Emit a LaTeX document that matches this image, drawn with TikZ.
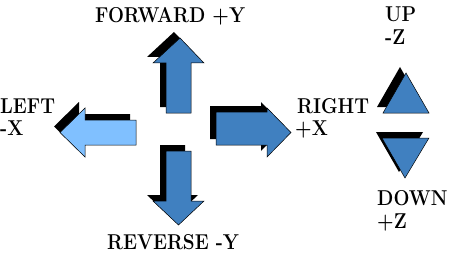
\documentclass[tikz,border=0pt]{standalone}
\usetikzlibrary{positioning}
\definecolor{arrowblue}{RGB}{64,128,192}
\definecolor{arrowlight}{RGB}{128,192,255}
\newcommand{\axislbl}[1]{\scalebox{0.88}[1]{#1}}

\begin{document}
\begin{tikzpicture}[x=1pt, y=-1pt,
    lbltext/.style={inner sep=0pt, anchor=base west, font=\fontsize{21.5}{21.5}\selectfont\bfseries},
    shadow/.style={fill=black, shift={(-6,-6)}},
    arrowbody/.style={fill=arrowblue, draw=black, line width=0.5pt, line join=miter}]
    \useasboundingbox (0,0) rectangle (471,254);

    % forward arrow
    \fill[shadow] (180,38) -- (153,63) -- (166,63) -- (166,113) -- (191,113) -- (191,63) -- (204,63) -- cycle;
    \draw[arrowbody] (180,38) -- (153,63) -- (166,63) -- (166,113) -- (191,113) -- (191,63) -- (204,63) -- cycle;
    % reverse arrow
    \fill[shadow] (178.5,225) -- (153,201) -- (166,201) -- (166,151) -- (191,151) -- (191,201) -- (204,201) -- cycle;
    \draw[arrowbody] (178.5,225) -- (153,201) -- (166,201) -- (166,151) -- (191,151) -- (191,201) -- (204,201) -- cycle;
    % left arrow
    \fill[shadow] (60,132.5) -- (85,108) -- (85,120) -- (136,120) -- (136,145) -- (85,145) -- (85,157) -- cycle;
    \draw[arrowbody, fill=arrowlight] (60,132.5) -- (85,108) -- (85,120) -- (136,120) -- (136,145) -- (85,145) -- (85,157) -- cycle;
    % right arrow
    \fill[shadow] (291,132.5) -- (267,108) -- (267,112) -- (216,112) -- (216,145) -- (267,145) -- (267,157) -- cycle;
    \draw[arrowbody] (291,132.5) -- (267,108) -- (267,112) -- (216,112) -- (216,145) -- (267,145) -- (267,157) -- cycle;
    % up and down triangles
    \fill[shadow] (406,73) -- (383,113) -- (429,113) -- cycle;
    \draw[arrowbody] (406,73) -- (383,113) -- (429,113) -- cycle;
    \fill[shadow] (405,178) -- (382,138) -- (429,138) -- cycle;
    \draw[arrowbody] (405,178) -- (382,138) -- (429,138) -- cycle;

    % labels
    \node[lbltext] (lblfwd) at (95,23) {\axislbl{FORWARD +Y}};
    \node[lbltext] (lblrev) at (107,249) {\axislbl{REVERSE -Y}};
    \node[lbltext] (lblleft) at (0,113) {\axislbl{LEFT}};
    \node[lbltext] (lblleftx) at (0,135) {\axislbl{-X}};
    \node[lbltext] (lblright) at (297,113) {\axislbl{RIGHT}};
    \node[lbltext] (lblrightx) at (295,135) {\axislbl{+X}};
    \node[lbltext] (lblup) at (385,22) {\axislbl{UP}};
    \node[lbltext] (lblupz) at (385,45) {\axislbl{-Z}};
    \node[lbltext] (lbldown) at (377,205) {\axislbl{DOWN}};
    \node[lbltext] (lbldownz) at (377,228) {\axislbl{+Z}};
\end{tikzpicture}
\end{document}
